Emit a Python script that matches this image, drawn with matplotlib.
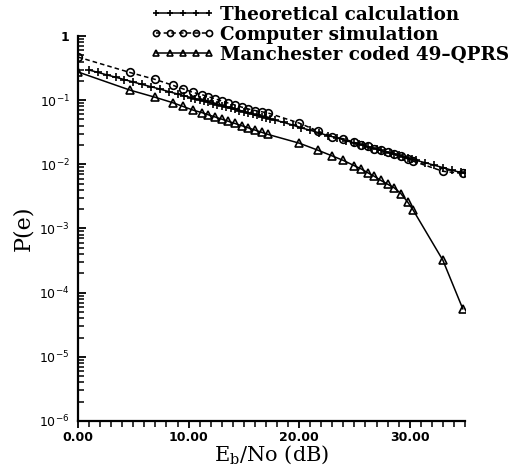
import numpy as np
import matplotlib
matplotlib.use("Agg")
import matplotlib.pyplot as plt
from matplotlib.ticker import FixedLocator, MultipleLocator, LogLocator, NullFormatter

# theoretical curve (plus markers)
theo_x = [1.0, 1.8, 2.6, 3.4, 4.2, 5.0, 5.8, 6.6, 7.4, 8.2, 9.0, 9.6, 10.2, 10.6,
          11.0, 11.4, 11.8, 12.2, 12.6, 13.0, 13.4, 13.8, 14.2, 14.6, 15.0, 15.4,
          15.8, 16.2, 16.6, 17.0, 17.4, 17.8, 18.6, 19.4, 20.2, 21.0, 21.8, 22.6,
          23.4, 24.2, 25.0, 25.4, 25.8, 26.2, 26.6, 27.0, 27.4, 27.8, 28.2, 28.6,
          29.0, 29.4, 29.8, 30.2, 30.6, 31.4, 32.2, 33.0, 33.8, 34.6, 35.0]
theo_p = [0.295, 0.271, 0.248, 0.228, 0.209, 0.192, 0.176, 0.162, 0.149, 0.136,
          0.125, 0.117, 0.110, 0.105, 0.101, 0.0967, 0.0926, 0.0887, 0.0850, 0.0814,
          0.078, 0.0747, 0.0716, 0.0686, 0.0657, 0.063, 0.0603, 0.0577, 0.0553, 0.053,
          0.051, 0.049, 0.045, 0.041, 0.037, 0.034, 0.031, 0.028, 0.026, 0.0235,
          0.0215, 0.0206, 0.0197, 0.0188, 0.0180, 0.0172, 0.0165, 0.0157, 0.0151,
          0.0144, 0.0138, 0.0132, 0.0126, 0.0121, 0.0115, 0.0106, 0.0097, 0.0089,
          0.0081, 0.0075, 0.0072]

# simulated points (circles and triangles share the same Eb/No values)
sim_x = [0, 4.7, 7.0, 8.6, 9.5, 10.4, 11.2, 11.8, 12.4, 13.0, 13.6, 14.2, 14.8,
         15.4, 16.0, 16.6, 17.2, 20.0, 21.7, 23.0, 24.0, 25.0, 25.6, 26.2, 26.8,
         27.4, 28.0, 28.6, 29.2, 29.8, 30.3, 33.0, 34.8]
sim_p = [0.47, 0.27, 0.21, 0.17, 0.15, 0.132, 0.122, 0.113, 0.105, 0.097, 0.090,
         0.084, 0.078, 0.073, 0.069, 0.066, 0.063, 0.044, 0.033, 0.027, 0.025,
         0.022, 0.020, 0.019, 0.0175, 0.0165, 0.0155, 0.0147, 0.0135, 0.0122,
         0.0112, 0.0078, 0.0072]
manch_p = [0.275, 0.1435, 0.1106, 0.091, 0.0798, 0.070, 0.064, 0.059, 0.0547,
           0.0506, 0.0468, 0.0433, 0.040, 0.037, 0.0342, 0.0316, 0.0292, 0.0214,
           0.0166, 0.0135, 0.0115, 0.0095, 0.0085, 0.0074, 0.0065, 0.0056, 0.0049,
           0.0043, 0.0035, 0.0026, 0.00195, 0.00032, 0.000056]

labels = ["Theoretical calculation", "Computer simulation", "Manchester coded 49\u2013QPRS"]
ytick_vals = [1, 1e-1, 1e-2, 1e-3, 1e-4, 1e-5, 1e-6]
ytick_text = ["1", r"$10^{-1}$", r"$10^{-2}$", r"$10^{-3}$", r"$10^{-4}$", r"$10^{-5}$", r"$10^{-6}$"]
xtick_vals = [0, 10, 20, 30]
xtick_text = ["0.00", "10.00", "20.00", "30.00"]

fig = plt.figure(figsize=(5.11, 4.72), dpi=100)
ax = fig.add_axes([78 / 511, 51 / 472, 387 / 511, 385 / 472])

l1, = ax.plot(theo_x, theo_p, color="black", lw=1.1, marker="+", ms=6, mew=1.2)
l2, = ax.plot(sim_x, sim_p, color="black", lw=1.1, ls=(0, (3, 2)), marker="o", ms=5.5,
              mfc="none", mew=1.2)
l3, = ax.plot(sim_x, manch_p, color="black", lw=1.1, marker="^", ms=5.5, mfc="none", mew=1.2)

ax.set_yscale("log")
ax.set_xlim(0, 35)
ax.set_ylim(1e-6, 1)

for s in ["top", "right"]:
    ax.spines[s].set_visible(False)
for s in ["left", "bottom"]:
    ax.spines[s].set_linewidth(1.6)

ax.yaxis.set_major_locator(FixedLocator(ytick_vals))
ax.set_yticklabels(ytick_text)
ax.yaxis.set_minor_locator(LogLocator(base=10, subs=np.arange(2, 10), numticks=20))
ax.yaxis.set_minor_formatter(NullFormatter())
ax.tick_params(axis="y", which="major", direction="in", length=6, width=1.3, labelsize=9, pad=6)
ax.tick_params(axis="y", which="minor", direction="in", length=4, width=1.1)

ax.xaxis.set_major_locator(FixedLocator(xtick_vals))
ax.set_xticklabels(xtick_text)
ax.xaxis.set_minor_locator(MultipleLocator(1))
ax.tick_params(axis="x", which="major", direction="out", length=5, width=1.3, labelsize=9, pad=2)
ax.tick_params(axis="x", which="minor", direction="out", length=4, width=1.1)
for t in ax.get_xticklabels() + ax.get_yticklabels():
    t.set_fontweight("bold")

ax.set_xlabel(r"E$_\mathregular{b}$/No (dB)", family="DejaVu Serif", fontsize=15, labelpad=0)
ax.set_ylabel("P(e)", family="DejaVu Serif", fontsize=16, labelpad=4)

fig.legend([l1, l2, l3], labels, loc="upper left", bbox_to_anchor=(138 / 511, 1.015),
           frameon=False, numpoints=5, markerscale=0.8, handlelength=3.5, handletextpad=0.3,
           labelspacing=0.1, borderpad=0.2,
           prop={"family": "DejaVu Serif", "weight": "bold", "size": 13.2})

fig.savefig("out.png", dpi=100)
